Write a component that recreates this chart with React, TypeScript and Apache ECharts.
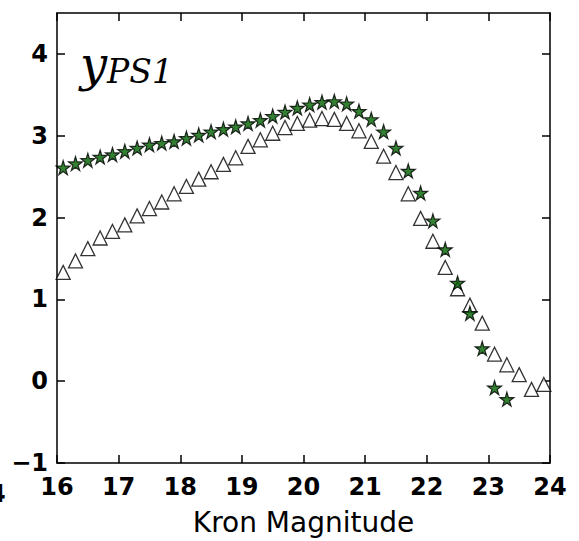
import React, { useEffect, useRef } from "react";
import * as echarts from "echarts";

const magnitudes = [
  16.1, 16.3, 16.5, 16.7, 16.9, 17.1, 17.3, 17.5, 17.7, 17.9,
  18.1, 18.3, 18.5, 18.7, 18.9, 19.1, 19.3, 19.5, 19.7, 19.9,
  20.1, 20.3, 20.5, 20.7, 20.9, 21.1, 21.3, 21.5, 21.7, 21.9,
  22.1, 22.3, 22.5, 22.7, 22.9, 23.1, 23.3, 23.5, 23.7, 23.9,
];

const starValues = [
  2.61, 2.66, 2.70, 2.74, 2.77, 2.81, 2.85, 2.89, 2.91, 2.93,
  2.97, 3.01, 3.05, 3.08, 3.11, 3.15, 3.19, 3.24, 3.29, 3.34,
  3.38, 3.41, 3.42, 3.39, 3.30, 3.20, 3.05, 2.85, 2.57, 2.30,
  1.96, 1.61, 1.20, 0.83, 0.40, -0.08, -0.22,
];

const triangleValues = [
  1.33, 1.47, 1.62, 1.75, 1.83, 1.91, 2.02, 2.11, 2.19, 2.29,
  2.38, 2.47, 2.56, 2.65, 2.73, 2.87, 2.95, 3.03, 3.10, 3.15,
  3.19, 3.21, 3.20, 3.15, 3.06, 2.93, 2.75, 2.55, 2.29, 1.99,
  1.71, 1.39, 1.13, 0.93, 0.71, 0.33, 0.20, 0.08, -0.10, -0.04,
];

const xTicks = [16, 17, 18, 19, 20, 21, 22, 23, 24];
const yTicks = [-1, 0, 1, 2, 3, 4];

const STAR =
  "path://M50,0 L61,35 L98,35 L68,57 L79,91 L50,70 L21,91 L32,57 L2,35 L39,35 Z";

export default function App() {
  const ref = useRef<HTMLDivElement>(null);
  useEffect(() => {
    if (!ref.current) return;
    const chart = echarts.init(ref.current, null, { renderer: "svg" });
    const fmtMinus = (v: number) => String(v).replace("-", "\u2212");
    const tickFont = {
      fontFamily: "DejaVu Sans",
      fontWeight: "bold" as const,
      fontSize: 24,
      color: "#000",
    };
    const lineStyle = { color: "#000", width: 1.5 };
    chart.setOption({
      animation: false,
      backgroundColor: "#fff",
      grid: { left: 57, top: 13, right: 29, bottom: 71, containLabel: false },
      xAxis: [
        {
          type: "value",
          min: 16,
          max: 24,
          interval: 1,
          name: "Kron Magnitude",
          nameLocation: "middle",
          nameGap: 45,
          nameTextStyle: { fontFamily: "DejaVu Sans", fontSize: 28, color: "#000" },
          axisLine: { show: true, onZero: false, lineStyle },
          axisTick: { show: true, inside: true, length: 8, lineStyle, customValues: xTicks },
          axisLabel: { ...tickFont, margin: 12, customValues: xTicks, formatter: fmtMinus },
          splitLine: { show: false },
        },
        {
          type: "value",
          position: "top",
          min: 16,
          max: 24,
          interval: 1,
          axisLine: { show: true, onZero: false, lineStyle },
          axisTick: { show: true, inside: true, length: 8, lineStyle },
          axisLabel: { show: false },
          splitLine: { show: false },
        },
      ],
      yAxis: [
        {
          type: "value",
          min: -1,
          max: 4.5,
          interval: 1,
          axisLine: { show: true, onZero: false, lineStyle },
          axisTick: { show: true, inside: true, length: 8, lineStyle, customValues: yTicks },
          axisLabel: { ...tickFont, margin: 9, customValues: yTicks, formatter: fmtMinus },
          splitLine: { show: false },
        },
        {
          type: "value",
          position: "right",
          min: -1,
          max: 4.5,
          interval: 1,
          axisLine: { show: true, onZero: false, lineStyle },
          axisTick: { show: true, inside: true, length: 8, lineStyle, customValues: yTicks },
          axisLabel: { show: false },
          splitLine: { show: false },
        },
      ],
      series: [
        {
          type: "scatter",
          name: "triangles",
          symbol: "triangle",
          symbolSize: [14, 14],
          itemStyle: { color: "#fff", borderColor: "#000", borderWidth: 1.3 },
          data: triangleValues.map((v, i) => [magnitudes[i], v]),
          z: 2,
        },
        {
          type: "scatter",
          name: "stars",
          symbol: STAR,
          symbolSize: 14,
          itemStyle: { color: "#006000", borderColor: "#000", borderWidth: 1.2 },
          data: starValues.map((v, i) => [magnitudes[i], v]),
          z: 3,
        },
      ],
      graphic: [
        {
          type: "text",
          left: 80,
          top: 40,
          style: {
            text: "{a|y}{b|PS1}",
            rich: {
              a: {
                fontFamily: "DejaVu Serif",
                fontStyle: "italic",
                fontSize: 48,
                fill: "#000",
                verticalAlign: "bottom",
              },
              b: {
                fontFamily: "DejaVu Serif",
                fontStyle: "italic",
                fontSize: 33,
                fill: "#000",
                padding: [14, 0, 0, 0],
                verticalAlign: "bottom",
              },
            },
          },
        },
        {
          type: "text",
          left: -11,
          top: 482,
          style: {
            text: "4",
            fontFamily: "DejaVu Sans",
            fontWeight: "bold",
            fontSize: 24,
            fill: "#000",
          },
        },
      ],
    });
    return () => chart.dispose();
  }, []);
  return (
    <div
      ref={ref}
      style={{ position: "fixed", left: 0, top: 0, width: 579, height: 541 }}
    />
  );
}
